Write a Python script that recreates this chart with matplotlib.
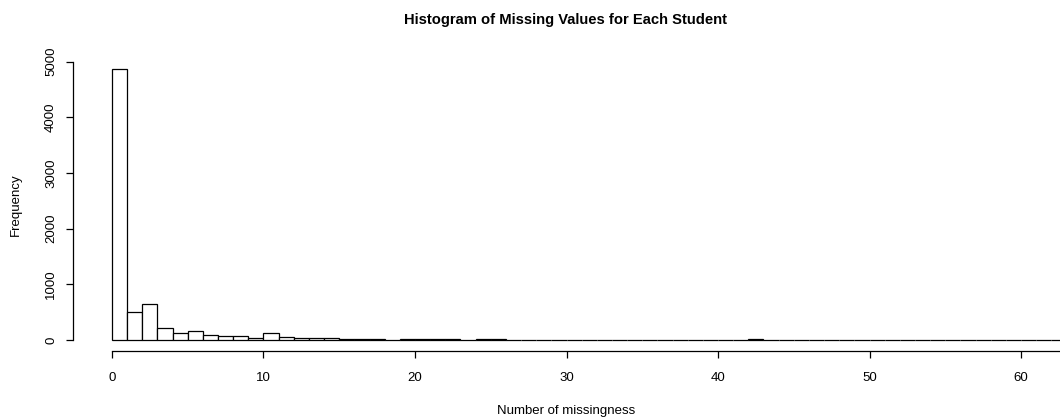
import numpy as np
import matplotlib
matplotlib.use("Agg")
from matplotlib import pyplot as plt

# histogram bins: [left edge, left edge + 1)
bin_edges = list(range(0, 71))
counts = [4870, 495, 640, 210, 120, 160, 85, 66, 66, 30,
          120, 50, 36, 36, 36, 15, 15, 15, 0, 10,
          10, 10, 10, 0, 10, 10, 0, 0, 0, 0,
          0, 0, 0, 0, 0, 0, 0, 0, 0, 0,
          0, 0, 12, 0, 0, 0, 0, 0, 0, 0,
          0, 0, 0, 0, 0, 0, 0, 0, 0, 0,
          0, 0, 0, 0, 0, 0, 0, 0, 0, 0]
x_ticks = [0, 10, 20, 30, 40, 50, 60]
y_ticks = [0, 1000, 2000, 3000, 4000, 5000]

plt.rcParams["font.family"] = ["Liberation Sans", "DejaVu Sans"]

W, H = 1060, 418
fig = plt.figure(figsize=(W / 100, H / 100), dpi=100)
# plot region in pixels: left 73, right 1060 (cropped), top 58, bottom 351
ax = fig.add_axes([73 / W, (H - 351) / H, (W - 73) / W, (351 - 58) / H])

ax.bar(bin_edges[:-1], counts, width=1, align="edge", facecolor="white",
       edgecolor="black", linewidth=0.9)

ax.set_xlim(-2.57, 62.57)
ax.set_ylim(-198, 5065)

for side in ["top", "right"]:
    ax.spines[side].set_visible(False)
ax.spines["left"].set_bounds(0, 5000)
ax.spines["bottom"].set_bounds(0, 62.57)
for side in ["left", "bottom"]:
    ax.spines[side].set_linewidth(0.9)

ax.set_xticks(x_ticks)
ax.set_yticks(y_ticks)
ax.set_yticklabels([str(v) for v in y_ticks], rotation=90, va="center")
ax.tick_params(direction="out", length=5, width=0.9, labelsize=9.5)
ax.tick_params(axis="x", pad=10)
ax.tick_params(axis="y", pad=6.5)

ax.set_xlabel("Number of missingness", fontsize=9.5, labelpad=15.5)
ax.set_ylabel("Frequency", fontsize=9.5, labelpad=16.5)
fig.text(566 / W, 1 - 20 / H, "Histogram of Missing Values for Each Student",
         ha="center", va="center", fontsize=10.6, fontweight="bold")

fig.savefig("out.png", dpi=100)
